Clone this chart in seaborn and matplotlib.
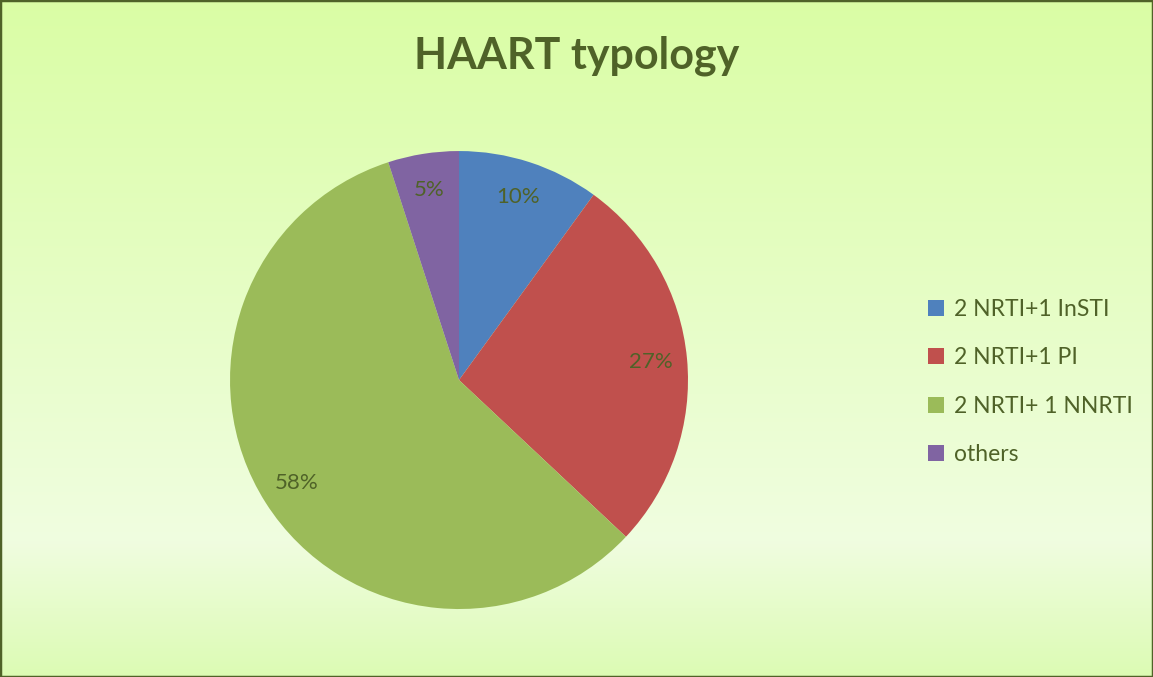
import numpy as np
import matplotlib.pyplot as plt
import seaborn as sns
from matplotlib.colors import LinearSegmentedColormap

categories = ['2 NRTI+1 InSTI', '2 NRTI+1 PI', '2 NRTI+ 1 NNRTI', 'others']
shares = [10, 27, 58, 5]
colours = ['#4f81bd', '#c0504d', '#9bbb59', '#8064a2']
txt = '#4f6228'

sns.set_style('white')
plt.rcParams['font.family'] = ['Lato', 'DejaVu Sans']

fig = plt.figure(figsize=(11.53, 6.77), dpi=100)

# gradient background
bg = fig.add_axes([0, 0, 1, 1])
grad = LinearSegmentedColormap.from_list('g', [(0, '#dcfbb4'), (0.2, '#f0fde0'), (1, '#dafea5')])
bg.imshow(np.linspace(0, 1, 256).reshape(-1, 1), aspect='auto', cmap=grad,
          extent=[0, 1, 0, 1], origin='lower')
bg.set_xlim(0, 1)
bg.set_ylim(0, 1)
bg.set_xticks([])
bg.set_yticks([])
for sp in bg.spines.values():
    sp.set_color(txt)
    sp.set_linewidth(2.5)
    sp.set_visible(True)

ax = fig.add_axes([0.1995, 0.1004, 0.3972, 0.6765])
wedges, texts, autotexts = ax.pie(shares, colors=colours, startangle=90, counterclock=False,
                                  autopct='%d%%', pctdistance=0.84,
                                  wedgeprops={'linewidth': 0},
                                  textprops={'color': txt, 'fontsize': 16})
ax.set_xlim(-1, 1)
ax.set_ylim(-1, 1)
ax.set_aspect('equal')
ax.axis('off')

fig.text(0.5, 0.918, 'HAART typology', ha='center', va='center', fontsize=31,
         fontweight='bold', color=txt)

leg = fig.legend(wedges, categories, loc='center left', bbox_to_anchor=(0.787, 0.436),
                 frameon=False, fontsize=16.5, handlelength=0.7, handleheight=0.7,
                 handletextpad=0.45, labelspacing=1.2)
for t in leg.get_texts():
    t.set_color(txt)

fig.savefig('out.png', dpi=100)
